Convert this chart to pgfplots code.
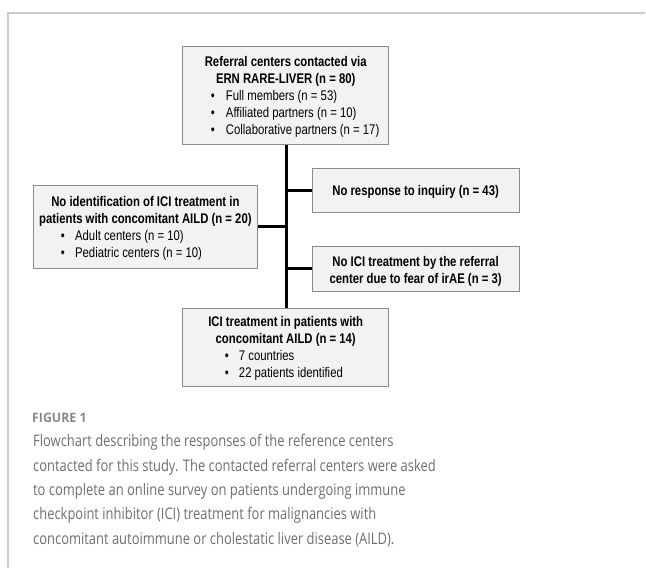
\documentclass[border=0pt]{standalone}
\usepackage{pgfplots}
\pgfplotsset{compat=1.18}
\usepackage{fontspec}
\setmainfont{Liberation Sans}
\newfontfamily\boxfont[FakeStretch=0.81]{Liberation Sans}
\newfontfamily\capfont[FakeStretch=0.81]{Open Sans}
\newfontfamily\figfont[FakeStretch=0.95]{Open Sans}
\definecolor{boxfill}{HTML}{F2F2F2}
\definecolor{boxdraw}{HTML}{8C8C8C}
\definecolor{framegray}{HTML}{CCCCCC}
\definecolor{figgray}{HTML}{888888}
\definecolor{capgray}{HTML}{6E6E6E}
\begin{document}
\begin{tikzpicture}
\begin{axis}[width=646pt,height=569pt,scale only axis,
  xmin=0,xmax=646,ymin=0,ymax=569,y dir=reverse,hide axis,clip=false]
\path (axis cs:0,0) rectangle (axis cs:646,569);
% frame
\addplot[framegray,line width=1.3pt] coordinates {(8,569)(8,13)(646,13)};
% connectors
\addplot[black,line width=2.8pt] coordinates {(287,145)(287,309)};
\addplot[black,line width=2.8pt] coordinates {(287,191)(313,191)};
\addplot[black,line width=2.8pt] coordinates {(258,227)(287,227)};
\addplot[black,line width=2.8pt] coordinates {(287,269)(313,269)};
% boxes
\addplot[draw=boxdraw,fill=boxfill,line width=0.9pt] coordinates {(183,46)(389,46)(389,145)(183,145)} -- cycle;
\addplot[draw=boxdraw,fill=boxfill,line width=0.9pt] coordinates {(313,169)(520,169)(520,213)(313,213)} -- cycle;
\addplot[draw=boxdraw,fill=boxfill,line width=0.9pt] coordinates {(33,186)(258,186)(258,269)(33,269)} -- cycle;
\addplot[draw=boxdraw,fill=boxfill,line width=0.9pt] coordinates {(313,247)(520,247)(520,292)(313,292)} -- cycle;
\addplot[draw=boxdraw,fill=boxfill,line width=0.9pt] coordinates {(183,309)(389,309)(389,387)(183,387)} -- cycle;
% top box text
\begin{scope}[every node/.style={font=\boxfont\fontsize{14}{17}\selectfont,inner sep=0pt}]
\node[anchor=base,font=\boxfont\bfseries\fontsize{14}{17}\selectfont] at (axis cs:286,66.5) {Referral centers contacted via};
\node[anchor=base,font=\boxfont\bfseries\fontsize{14}{17}\selectfont] at (axis cs:286,83.5) {ERN RARE-LIVER (n = 80)};
\node[anchor=base] at (axis cs:213,100.5) {•};
\node[anchor=base west] at (axis cs:226,100.5) {Full members (n = 53)};
\node[anchor=base] at (axis cs:213,117.5) {•};
\node[anchor=base west] at (axis cs:226,117.5) {Affiliated partners (n = 10)};
\node[anchor=base] at (axis cs:213,134.5) {•};
\node[anchor=base west] at (axis cs:226,134.5) {Collaborative partners (n = 17)};
% right box 1
\node[anchor=base,font=\boxfont\bfseries\fontsize{14}{17}\selectfont] at (axis cs:416,196) {No response to inquiry (n = 43)};
% left box
\node[anchor=base,font=\boxfont\bfseries\fontsize{14}{17}\selectfont] at (axis cs:145.5,207) {No identification of ICI treatment in};
\node[anchor=base,font=\boxfont\bfseries\fontsize{14}{17}\selectfont] at (axis cs:145.5,224) {patients with concomitant AILD (n = 20)};
\node[anchor=base] at (axis cs:63,241) {•};
\node[anchor=base west] at (axis cs:75,241) {Adult centers (n = 10)};
\node[anchor=base] at (axis cs:63,258) {•};
\node[anchor=base west] at (axis cs:75,258) {Pediatric centers (n = 10)};
% right box 2
\node[anchor=base,font=\boxfont\bfseries\fontsize{14}{17}\selectfont] at (axis cs:416,267) {No ICI treatment by the referral};
\node[anchor=base,font=\boxfont\bfseries\fontsize{14}{17}\selectfont] at (axis cs:416,284) {center due to fear of irAE (n = 3)};
% bottom box
\node[anchor=base,font=\boxfont\bfseries\fontsize{14}{17}\selectfont] at (axis cs:286,327) {ICI treatment in patients with};
\node[anchor=base,font=\boxfont\bfseries\fontsize{14}{17}\selectfont] at (axis cs:286,344) {concomitant AILD (n = 14)};
\node[anchor=base] at (axis cs:227,361) {•};
\node[anchor=base west] at (axis cs:239,361) {7 countries};
\node[anchor=base] at (axis cs:227,378) {•};
\node[anchor=base west] at (axis cs:239,378) {22 patients identified};
\end{scope}
% caption
\begin{scope}[every node/.style={font=\capfont\fontsize{16}{24}\selectfont,inner sep=0pt,anchor=base west,text=capgray}]
\node[font=\figfont\fontsize{13}{16}\selectfont\bfseries,text=figgray] at (axis cs:32,422.5) {FIGURE 1};
\node at (axis cs:33,447) {Flowchart describing the responses of the reference centers};
\node at (axis cs:33,471.5) {contacted for this study. The contacted referral centers were asked};
\node at (axis cs:33,496) {to complete an online survey on patients undergoing immune};
\node at (axis cs:33,520.5) {checkpoint inhibitor (ICI) treatment for malignancies with};
\node at (axis cs:33,545) {concomitant autoimmune or cholestatic liver disease (AILD).};
\end{scope}
\end{axis}
\end{tikzpicture}
\end{document}
